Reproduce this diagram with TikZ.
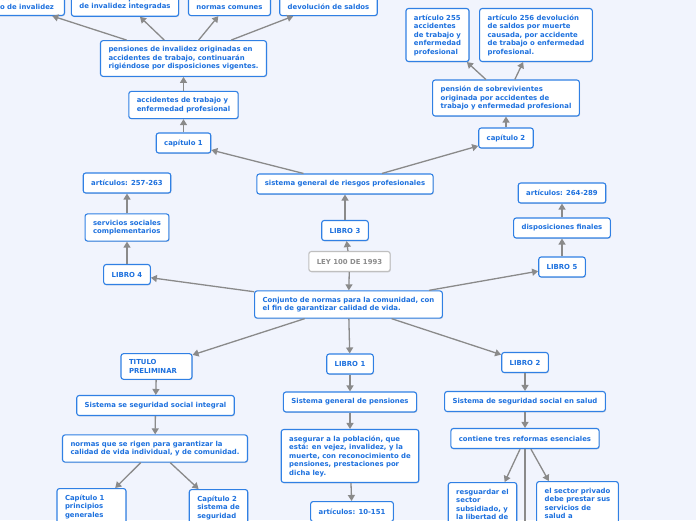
\documentclass[tikz,border=0pt]{standalone}
\usepackage{fontspec}
\setmainfont{DejaVu Sans}
\usetikzlibrary{arrows.meta,shadows}
\definecolor{mapblue}{RGB}{28,112,222}
\definecolor{mapedge}{RGB}{48,128,228}
\definecolor{mapgray}{RGB}{138,138,138}
\definecolor{mapback}{RGB}{241,244,253}
\tikzset{
  topic/.style={draw=mapedge, line width=1.1pt, fill=white, rounded corners=2.5pt,
    text=mapblue, font=\bfseries\fontsize{6.9}{8.5}\selectfont, align=left,
    inner xsep=8pt, inner ysep=6pt, minimum height=20pt,
    drop shadow={shadow xshift=0.7pt, shadow yshift=-0.9pt, opacity=0.25}},
  root/.style={topic, draw=black!25, text=black!45},
  link/.style={draw=mapgray, line width=1.3pt, -{Triangle[length=6pt,width=7pt]}}
}
\begin{document}
\begin{tikzpicture}[x=1pt,y=-1pt]
\fill [mapback] (0,0) rectangle (696,520);
\useasboundingbox (0,0) rectangle (696,520);
\node [root] (ley) at (349.5,261.5) {LEY 100 DE 1993};
\node [topic] (conj) at (348.5,304.5) {Conjunto de normas para la comunidad, con\\el fin de garantizar calidad de vida.};
\node [topic] (libro3) at (345,230.5) {LIBRO 3};
\node [topic] (riesgos) at (345,184) {sistema general de riesgos profesionales};
\node [topic] (cap1) at (183.5,143) {capítulo 1};
\node [topic] (accid) at (183.5,105) {accidentes de trabajo y\\enfermedad profesional};
\node [topic] (pinval) at (183.5,58.5) {pensiones de invalidez originadas en\\accidentes de trabajo, continuarán\\rigiéndose por disposiciones vigentes.};
\node [topic, anchor=south east] (art250) at (65,16) {artículo 250 calificación\\del estado de invalidez};
\node [topic] (art251) at (125,2.5) {artículo 251 pensiones\\de invalidez integradas};
\node [topic] (art252) at (229.5,2.5) {artículo 252\\normas comunes};
\node [topic] (art253) at (328.5,2.5) {artículo 253\\devolución de saldos};
\node [topic] (cap2) at (506,138) {capítulo 2};
\node [topic] (sobrev) at (506,98) {pensión de sobrevivientes\\originada por accidentes de\\trabajo y enfermedad profesional};
\node [topic] (art255) at (437.5,35) {artículo 255\\accidentes\\de trabajo y\\enfermedad\\profesional};
\node [topic] (art256) at (536,35) {artículo 256 devolución\\de saldos por muerte\\causada, por accidente\\de trabajo o enfermedad\\profesional.};
\node [topic] (libro4) at (127,274.5) {LIBRO 4};
\node [topic] (servic) at (127,227.5) {servicios sociales\\complementarios};
\node [topic] (art257) at (127,183) {artículos: 257-263};
\node [topic] (libro5) at (562,267) {LIBRO 5};
\node [topic] (dispos) at (562,228) {disposiciones finales};
\node [topic] (art264) at (562,193) {artículos: 264-289};
\node [topic, text width=55pt] (titulo) at (156.5,366.5) {TITULO\\PRELIMINAR};
\node [topic] (integral) at (155.5,405.5) {Sistema se seguridad social integral};
\node [topic] (normas) at (155,448.5) {normas que se rigen para garantizar la\\calidad de vida individual, y de comunidad.};
\node [topic, anchor=north, text width=53pt, text height=5.5pt, text depth=28.5pt] (capi1) at (91.5,488) {Capítulo 1\\principios\\generales};
\node [topic, anchor=north] (capi2) at (218.5,489) {Capítulo 2\\sistema de\\seguridad};
\node [topic] (libro1) at (350,364) {LIBRO 1};
\node [topic] (pension) at (350,402) {Sistema general de pensiones};
\node [topic] (asegura) at (350,456) {asegurar a la población, que\\está: en vejez, invalidez, y la\\muerte, con reconocimiento de\\pensiones, prestaciones por\\dicha ley.};
\node [topic, anchor=north] (art10) at (352,501) {artículos: 10-151};
\node [topic] (libro2) at (525,362.5) {LIBRO 2};
\node [topic] (salud) at (525,401.5) {Sistema de seguridad social en salud};
\node [topic] (reformas) at (525,438.5) {contiene tres reformas esenciales};
\node [topic, anchor=north, text height=31pt, text depth=51pt] (resguarda) at (482.5,482) {resguardar el\\sector\\subsidiado, y\\la libertad de};
\node [topic, anchor=north, text height=31pt, text depth=59pt] (privado) at (577.5,481) {el sector privado\\debe prestar sus\\servicios de\\salud a};
\coordinate (reforma3) at (525,600);
\draw [link] (ley) -- (libro3);
\draw [link] (ley) -- (conj);
\draw [link] (libro3) -- (riesgos);
\draw [link] (riesgos) -- (cap1);
\draw [link] (riesgos) -- (cap2);
\draw [link] (cap1) -- (accid);
\draw [link] (accid) -- (pinval);
\draw [link] (pinval) -- (art250);
\draw [link] (pinval) -- (art251);
\draw [link] (pinval) -- (art252);
\draw [link] (pinval) -- (art253);
\draw [link] (cap2) -- (sobrev);
\draw [link] (sobrev) -- (art255);
\draw [link] (sobrev) -- (art256);
\draw [link] (conj) -- (libro4);
\draw [link] (libro4) -- (servic);
\draw [link] (servic) -- (art257);
\draw [link] (conj) -- (libro5);
\draw [link] (libro5) -- (dispos);
\draw [link] (dispos) -- (art264);
\draw [link] (conj) -- (titulo);
\draw [link] (titulo) -- (integral);
\draw [link] (integral) -- (normas);
\draw [link] (normas) -- (capi1);
\draw [link] (normas) -- (capi2);
\draw [link] (conj) -- (libro1);
\draw [link] (libro1) -- (pension);
\draw [link] (pension) -- (asegura);
\draw [link] (asegura) -- (art10);
\draw [link] (conj) -- (libro2);
\draw [link] (libro2) -- (salud);
\draw [link] (salud) -- (reformas);
\draw [link] (reformas) -- (resguarda);
\draw [link] (reformas) -- (privado);
\draw [link] (reformas) -- (reforma3);
\end{tikzpicture}
\end{document}
